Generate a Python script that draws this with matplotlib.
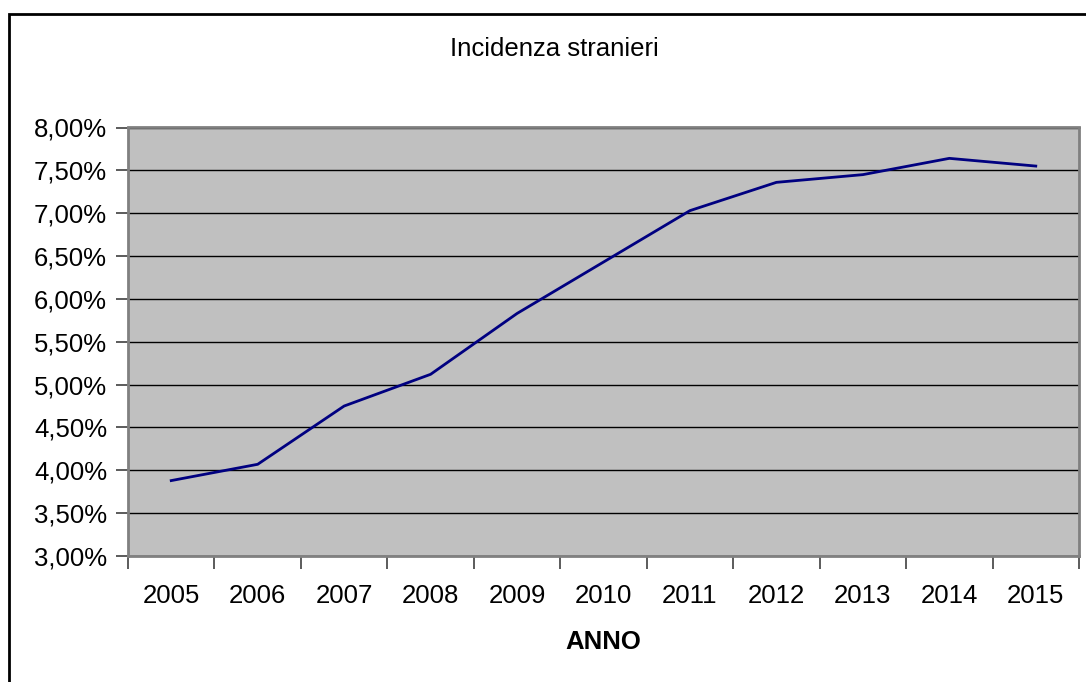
import matplotlib
matplotlib.use("Agg")
import numpy as np
from matplotlib import pyplot as plt
from matplotlib.ticker import FuncFormatter, FixedLocator
from matplotlib.patches import Rectangle

plt.rcParams['font.family'] = ['Liberation Sans', 'DejaVu Sans']

# dati: incidenza stranieri per anno (%)
anni = ['2005', '2006', '2007', '2008', '2009', '2010',
        '2011', '2012', '2013', '2014', '2015']
incidenza = [3.88, 4.07, 4.75, 5.12, 5.83, 6.43,
             7.03, 7.36, 7.45, 7.64, 7.55]

fs = 18.5

fig = plt.figure(figsize=(10.86, 6.82), dpi=100)

# bordo del grafico (stile Excel)
fig.patches.append(Rectangle((9 / 1086, -0.1), 1.2, 1 - 14 / 682 + 0.1,
                             transform=fig.transFigure, fill=False,
                             edgecolor='black', linewidth=2))

ax = fig.add_axes([128 / 1086, 1 - 556 / 682, 951 / 1086, 428.5 / 682])
ax.set_facecolor('#C0C0C0')

x = np.arange(len(anni))
ax.plot(x, incidenza, color='#000080', linewidth=2, zorder=3)

ax.set_xlim(-0.5, len(anni) - 0.5)
ax.set_ylim(3.0, 8.0)

# tick tra le categorie, etichette al centro
ax.xaxis.set_major_locator(FixedLocator(np.arange(-0.5, len(anni), 1.0)))
ax.xaxis.set_minor_locator(FixedLocator(x))
ax.set_xticklabels([], minor=False)
ax.set_xticklabels(anni, minor=True, fontsize=fs)
ax.tick_params(axis='x', which='major', length=9, width=1.2, color='#404040', direction='out')
ax.tick_params(axis='x', which='minor', length=0, pad=20)

ax.set_yticks(np.arange(3.0, 8.01, 0.5))
ax.yaxis.set_major_formatter(FuncFormatter(lambda v, p: f"{v:.2f}".replace('.', ',') + '%'))
ax.tick_params(axis='y', length=9, width=1.2, color='#404040', labelsize=fs, pad=6)

ax.grid(axis='y', color='black', linewidth=1)
ax.set_axisbelow(True)
for s in ax.spines.values():
    s.set_color('#808080')
    s.set_linewidth(2)

ax.set_xlabel('ANNO', fontsize=fs, fontweight='bold', labelpad=16)
fig.text(554 / 1086, 1 - 49 / 682, 'Incidenza stranieri', fontsize=fs,
         ha='center', va='center')

fig.savefig('out.png', dpi=100)
